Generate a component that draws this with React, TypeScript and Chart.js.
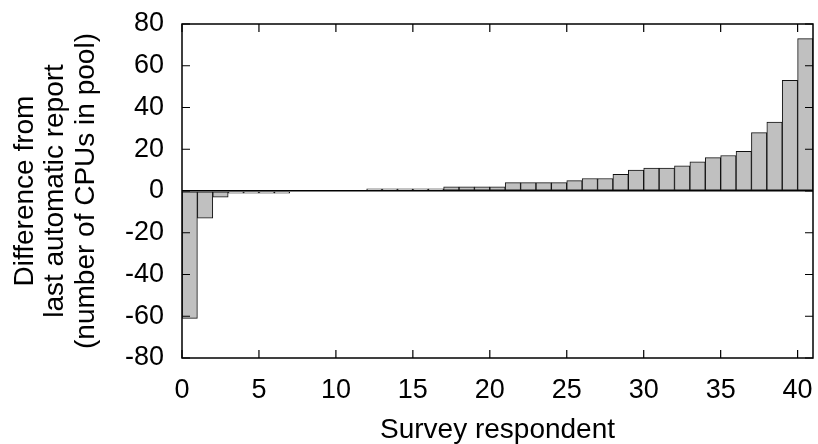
import React, { useEffect, useRef } from "react";
import { Chart, registerables } from "chart.js";

Chart.register(...registerables);

const respondents: number[] = Array.from({ length: 41 }, (_, i) => i);
const differences: number[] = [
  -61, -13, -3, -1, -1, -1, -1, 0, 0, 0, 0, 0, 1, 1, 1, 1, 1, 2, 2, 2, 2,
  4, 4, 4, 4, 5, 6, 6, 8, 10, 11, 11, 12, 14, 16, 17, 19, 28, 33, 53, 73,
];
const xTickValues: number[] = [0, 5, 10, 15, 20, 25, 30, 35, 40];
const yTickValues: number[] = [-80, -60, -40, -20, 0, 20, 40, 60, 80];
const yTitleLines: string[] = [
  "Difference from",
  "last automatic report",
  "(number of CPUs in pool)",
];
const xTitle = "Survey respondent";

const FONT = "'Liberation Sans', Arial, Helvetica, sans-serif";

const framePlugin = {
  id: "gnuplotFrame",
  afterDraw(chart: any) {
    const { ctx, chartArea, scales } = chart;
    const { left, right, top, bottom } = chartArea;
    const x = scales.x;
    const y = scales.y;
    ctx.save();
    ctx.strokeStyle = "#000";
    ctx.lineWidth = 1.5;
    ctx.strokeRect(left, top, right - left, bottom - top);
    ctx.lineWidth = 1.2;
    const len = 8;
    ctx.beginPath();
    for (const v of yTickValues) {
      const py = y.getPixelForValue(v);
      ctx.moveTo(left, py);
      ctx.lineTo(left + len, py);
      ctx.moveTo(right, py);
      ctx.lineTo(right - len, py);
    }
    for (const v of xTickValues) {
      const px = x.getPixelForValue(v);
      ctx.moveTo(px, bottom);
      ctx.lineTo(px, bottom - len);
      ctx.moveTo(px, top);
      ctx.lineTo(px, top + len);
    }
    ctx.stroke();
    ctx.restore();
  },
};

export default function App() {
  const ref = useRef<HTMLCanvasElement | null>(null);

  useEffect(() => {
    if (!ref.current) return;
    const chart = new Chart(ref.current, {
      type: "bar",
      data: {
        datasets: [
          {
            data: respondents.map((r, i) => ({ x: r + 0.5, y: differences[i] })),
            backgroundColor: "#c0c0c0",
            borderColor: "#111",
            borderWidth: 1,
            borderSkipped: false,
            barPercentage: 1,
            categoryPercentage: 1,
          },
        ],
      },
      options: {
        responsive: false,
        animation: false,
        layout: { padding: { top: 24, right: 5, left: 0, bottom: 0 } },
        plugins: { legend: { display: false }, tooltip: { enabled: false } },
        scales: {
          x: {
            type: "linear",
            offset: false,
            min: 0,
            max: 41,
            afterFit: (s: any) => {
              s.height = 86;
              s.paddingLeft = 0;
              s.paddingRight = 0;
              s.paddingTop = 0;
              s.paddingBottom = 0;
            },
            afterBuildTicks: (s: any) => {
              s.ticks = xTickValues.map((v) => ({ value: v }));
            },
            grid: { display: false, drawTicks: false },
            border: { display: false },
            ticks: {
              includeBounds: false,
              padding: 16,
              color: "#000",
              maxRotation: 0,
              font: { family: FONT, size: 27 },
            },
            title: {
              display: true,
              text: xTitle,
              color: "#000",
              font: { family: FONT, size: 28, lineHeight: 1 },
              padding: { top: 0, bottom: 0 },
            },
          },
          y: {
            type: "linear",
            min: -80,
            max: 80,
            afterFit: (s: any) => {
              s.width = 182;
              s.paddingLeft = 0;
              s.paddingRight = 0;
              s.paddingTop = 0;
              s.paddingBottom = 0;
            },
            afterBuildTicks: (s: any) => {
              s.ticks = yTickValues.map((v) => ({ value: v }));
            },
            grid: {
              drawTicks: false,
              lineWidth: 1.5,
              color: (c: any) => (c.tick && c.tick.value === 0 ? "#000" : "rgba(0,0,0,0)"),
            },
            border: { display: false },
            ticks: {
              padding: 18,
              color: "#000",
              font: { family: FONT, size: 27 },
            },
            title: {
              display: true,
              text: yTitleLines,
              color: "#000",
              font: { family: FONT, size: 28, lineHeight: 1.09 },
              padding: { top: 10, bottom: 0 },
            },
          },
        },
      },
      plugins: [framePlugin],
    });
    return () => chart.destroy();
  }, []);

  return (
    <div style={{ position: "absolute", left: 0, top: 0, width: 818, height: 444, background: "#fff" }}>
      <canvas ref={ref} width={818} height={444} />
    </div>
  );
}
